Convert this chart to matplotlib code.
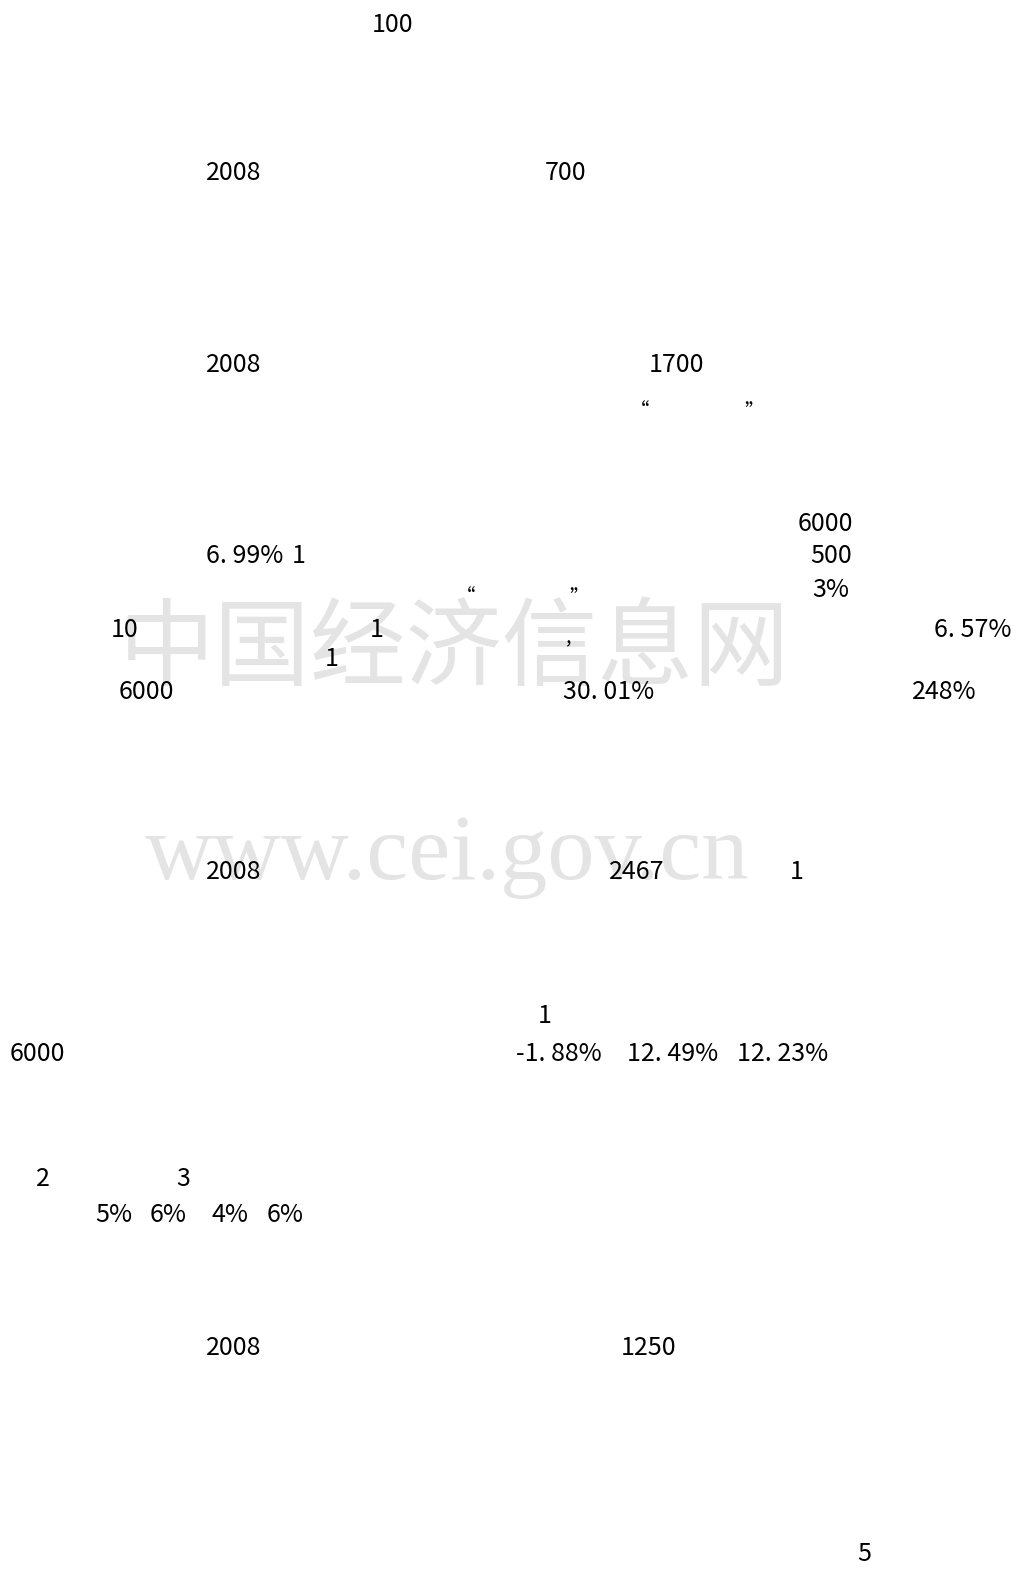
import matplotlib
matplotlib.use("Agg")
import matplotlib.pyplot as plt

# text fragments that survive on the page (number runs only)
labels = [
    "100",
    "2008", "700",
    "2008", "1700", "\u201c", "\u201d",
    "6000",
    "6. 99%", "1", "500",
    "\u201c", "\u201d", "3%",
    "10", "1", ",", "6. 57%",
    "1",
    "6000", "30. 01%", "248%",
    "2008", "2467", "1",
    "1",
    "6000", "-1. 88%", "12. 49%", "12. 23%",
    "2", "3",
    "5%", "6%", "4%", "6%",
    "2008", "1250",
    "5",
]
label_x = [
    372,
    206, 545,
    206, 649, 630, 744,
    798,
    206, 292, 810,
    456, 569, 812,
    111, 370, 566, 934,
    325,
    119, 563, 912,
    206, 609, 790,
    538,
    10, 516, 627, 737,
    36, 176,
    95, 150, 212, 267,
    206, 621,
    857,
]
label_y = [
    25,
    173, 173,
    365, 365, 412, 412,
    524,
    556, 556, 556,
    598, 598, 590,
    630, 630, 638, 630,
    659,
    692, 692, 692,
    872, 872, 872,
    1016,
    1054, 1054, 1054, 1054,
    1179, 1179,
    1215, 1215, 1215, 1215,
    1348, 1348,
    1554,
]

watermark_cn = "中国经济信息网"
watermark_url = "www.cei.gov.cn"

W, H = 1011, 1577
fig = plt.figure(figsize=(W / 100, H / 100), dpi=100)
ax = fig.add_axes([0, 0, 1, 1])
ax.set_xlim(0, W)
ax.set_ylim(H, 0)
ax.axis("off")

# watermarks
ax.text(119, 650, watermark_cn, fontsize=69, color="#e4e4e4", va="center", ha="left",
        family=["Noto Sans CJK SC", "DejaVu Sans"], fontweight="light", zorder=0)
ax.text(145, 879, watermark_url, fontsize=68, color="#e4e4e4", va="baseline", ha="left",
        family=["Liberation Serif", "DejaVu Serif"], zorder=0)

for s, x, y in zip(labels, label_x, label_y):
    small = s in ("\u201c", "\u201d", ",")
    ax.text(x, y, s, fontsize=14 if small else 18, color="black", va="center", ha="left",
            family=["Noto Sans CJK SC", "DejaVu Sans"], fontweight="light", zorder=2)

fig.savefig("out.png", dpi=100)
